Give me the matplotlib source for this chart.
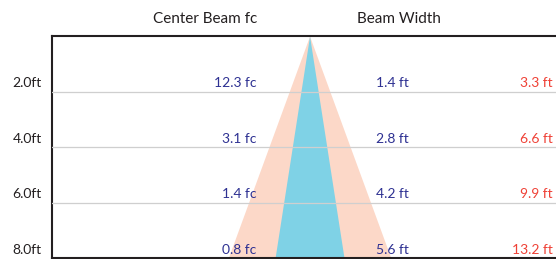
import numpy as np
import matplotlib.pyplot as plt
from matplotlib.transforms import blended_transform_factory

# mounting heights (ft) and photometric values
heights = [2.0, 4.0, 6.0, 8.0]
height_labels = ["2.0ft", "4.0ft", "6.0ft", "8.0ft"]
center_fc = [12.3, 3.1, 1.4, 0.8]
beam_width = [1.4, 2.8, 4.2, 5.6]
field_width = [3.3, 6.6, 9.9, 13.2]

plt.rcParams['font.family'] = ['Lato', 'DejaVu Sans']

fig = plt.figure(figsize=(5.56, 2.59), dpi=100)
ax = fig.add_axes([52 / 556, 1 / 259, 504 / 556, 222 / 259])

# beam cones, apex at the fixture
h = np.r_[0.0, heights]
fw = np.r_[0.0, field_width] / 2
bw = np.r_[0.0, beam_width] / 2
ax.fill_betweenx(h, -fw, fw, color='#fcd8c8', lw=0, zorder=1)
ax.fill_betweenx(h, -bw, bw, color='#7fd2e6', lw=0, zorder=2)

for y in heights[:-1]:
    ax.axhline(y, color='#cfcfcf', lw=0.9, zorder=3)

ax.set_xlim(-20.9, 20.0)
ax.set_ylim(8, 0)
ax.set_xticks([])
ax.set_yticks([])
ax.spines['right'].set_visible(False)
for s in ['left', 'top', 'bottom']:
    ax.spines[s].set_linewidth(1.5)
    ax.spines[s].set_color('#231f20')

tr = blended_transform_factory(ax.transAxes, ax.transData)
navy = '#2e3192'
red = '#ef4136'
fs = 10
for y, lab, fc, bwv, fwv in zip(heights, height_labels, center_fc, beam_width, field_width):
    ax.text(-0.02, y - 0.08, lab, transform=tr, ha='right', va='bottom',
            fontsize=fs, color='#231f20', clip_on=False)
    ax.text(0.405, y - 0.08, f"{fc} fc", transform=tr, ha='right', va='bottom',
            fontsize=fs, color=navy, zorder=4)
    ax.text(0.708, y - 0.08, f"{bwv} ft", transform=tr, ha='right', va='bottom',
            fontsize=fs, color=navy, zorder=4)
    ax.text(0.994, y - 0.08, f"{fwv} ft", transform=tr, ha='right', va='bottom',
            fontsize=fs, color=red, zorder=4)

fig.text(205 / 556, 1 - 19 / 259, "Center Beam fc", ha='center', va='center',
         fontsize=11, color='#231f20')
fig.text(399 / 556, 1 - 19 / 259, "Beam Width", ha='center', va='center',
         fontsize=11, color='#231f20')

fig.savefig("out.png", dpi=100)
